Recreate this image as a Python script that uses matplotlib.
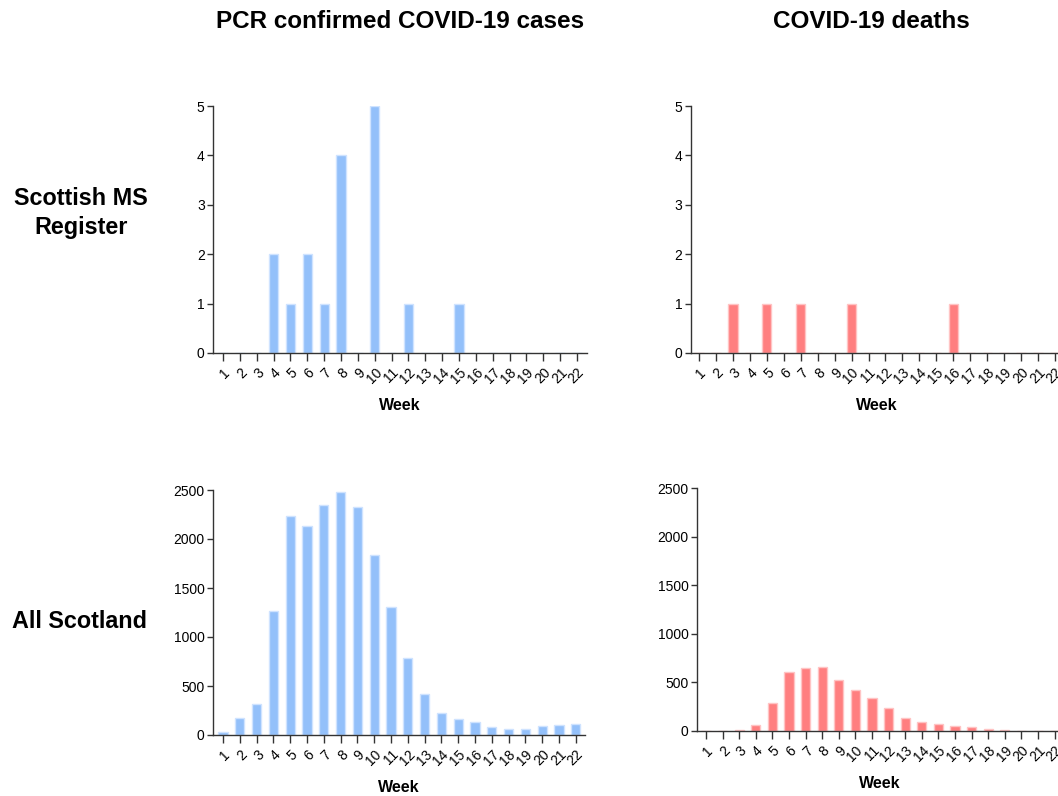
import numpy as np
import matplotlib
matplotlib.use('Agg')
import matplotlib.pyplot as plt

plt.rcParams['font.family'] = ['Liberation Sans', 'DejaVu Sans']

weeks = list(range(1, 23))

# Scottish MS Register
ms_cases = [0, 0, 0, 2, 1, 2, 1, 4, 0, 5, 0, 1, 0, 0, 1, 0, 0, 0, 0, 0, 0, 0]
ms_deaths = [0, 0, 1, 0, 1, 0, 1, 0, 0, 1, 0, 0, 0, 0, 0, 1, 0, 0, 0, 0, 0, 0]

# All Scotland
scot_cases = [27, 173, 313, 1269, 2235, 2136, 2347, 2480, 2330, 1833, 1310, 786,
              418, 221, 163, 129, 82, 61, 61, 88, 102, 116]
scot_deaths = [0, 0, 10, 66, 285, 610, 652, 662, 528, 418, 336, 233,
               134, 93, 72, 51, 38, 20, 15, 0, 5, 3]

col_titles = ['PCR confirmed COVID-19 cases', 'COVID-19 deaths']
row_titles = ['Scottish MS\nRegister', 'All Scotland']

blue = '#93c0fa'
blue_edge = '#cfe3ff'
red = '#ff7f80'
red_edge = '#ffc4c4'

W, H = 1058, 796
fig = plt.figure(figsize=(W / 100, H / 100), dpi=100)


def px_axes(left, right, bottom, top):
    return fig.add_axes([left / W, (H - bottom) / H, (right - left) / W, (bottom - top) / H])


panels = [
    # (pixel box, values, colour, edge, xlim, ymax, ystep)
    ((213, 587, 353, 106), ms_cases, blue, blue_edge, (0.4, 22.6), 5, 1),
    ((690.5, 1063.5, 353, 106), ms_deaths, red, red_edge, (0.5, 22.5), 5, 1),
    ((213, 585, 735, 490), scot_cases, blue, blue_edge, (0.4, 22.55), 2500, 500),
    ((697, 1063, 731, 488), scot_deaths, red, red_edge, (0.46, 22.5), 2500, 500),
]

for box, vals, c, ec, xl, ymax, ystep in panels:
    ax = px_axes(*box)
    ax.bar(weeks, vals, width=0.55, color=c, edgecolor=ec, linewidth=1.0)
    ax.set_xlim(*xl)
    ax.set_ylim(0, ymax)
    ax.set_yticks(np.arange(0, ymax + ystep, ystep))
    ax.set_xticks(weeks)
    ax.set_xticklabels([str(w) for w in weeks], rotation=45, ha='right',
                       rotation_mode='anchor', fontsize=10)
    ax.tick_params(axis='y', labelsize=10, length=4, width=1, color='#333333', pad=2)
    ax.tick_params(axis='x', length=6, width=1, color='#333333', pad=3)
    for s in ['top', 'right']:
        ax.spines[s].set_visible(False)
    for s in ['left', 'bottom']:
        ax.spines[s].set_color('#333333')
        ax.spines[s].set_linewidth(1.0)
    ax.set_xlabel('Week', fontsize=11.5, fontweight='bold', va='center')
    ax.xaxis.set_label_coords(0.5, -0.214)

fig.text(400 / W, 1 - 21 / H, col_titles[0], ha='center', va='center',
         fontsize=17.5, fontweight='bold')
fig.text(871 / W, 1 - 21 / H, col_titles[1], ha='center', va='center',
         fontsize=17.5, fontweight='bold')
fig.text(81 / W, 1 - 213 / H, row_titles[0], ha='center', va='center',
         fontsize=16.8, fontweight='bold', linespacing=1.3)
fig.text(79 / W, 1 - 621 / H, row_titles[1], ha='center', va='center',
         fontsize=16.8, fontweight='bold')

fig.savefig('out.png', dpi=100)
